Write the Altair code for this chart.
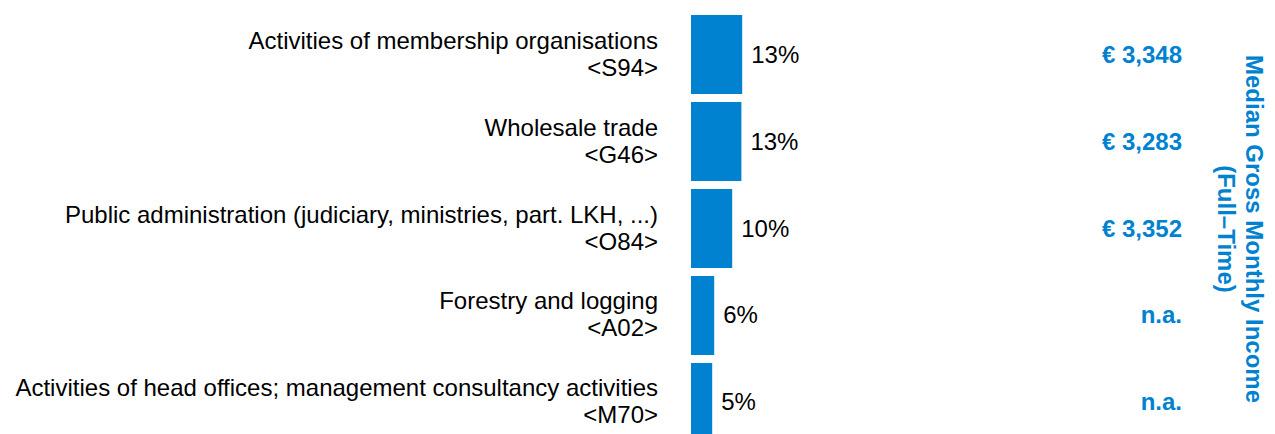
import altair as alt
import pandas as pd

names = [
    "Activities of membership organisations",
    "Wholesale trade",
    "Public administration (judiciary, ministries, part. LKH, ...)",
    "Forestry and logging",
    "Activities of head offices; management consultancy activities",
]
codes = ["S94", "G46", "O84", "A02", "M70"]
shares = [12.8, 12.6, 10.3, 5.8, 5.3]
income = [3348, 3283, 3352, None, None]
title_text = "Median Gross Monthly Income\n(Full\u2013Time)"

BLUE = "#0082D1"
FONT = "Liberation Sans"

df = pd.DataFrame({"name": names, "code": codes, "share": shares, "income": income})
df["label"] = [n + "\u00a0\n<" + c + ">" for n, c in zip(names, codes)]

base = alt.Chart(df).transform_calculate(
    pct="format(datum.share, '.0f') + '%'",
    inc="isValid(datum.income) ? '\u20ac ' + format(datum.income, ',') : 'n.a.'",
)

y = alt.Y("name:N", sort=names, axis=None,
          scale=alt.Scale(paddingInner=0.092, paddingOuter=0.0805))
x = alt.X("share:Q", axis=None, scale=alt.Scale(domain=[0, 144], nice=False, zero=True))

bars = base.mark_bar(color=BLUE).encode(x=x, y=y)

pct = base.mark_text(align="left", baseline="middle", dx=9, dy=1, fontSize=24,
                     font=FONT, color="#000000").encode(x=x, y=y, text="pct:N")

labels = base.mark_text(align="right", baseline="middle", fontSize=24, font=FONT,
                        color="#000000", lineBreak="\n", lineHeight=27, dy=-13).encode(
    x=alt.value(-33), y=y, text="label:N")

inc = base.mark_text(align="right", baseline="middle", fontSize=24, font=FONT,
                     fontWeight="bold", color=BLUE, dy=1).encode(
    x=alt.value(491), y=y, text="inc:N")

title = alt.Chart(pd.DataFrame({"t": [title_text]})).mark_text(
    angle=90, align="center", baseline="middle", fontSize=24, font=FONT,
    fontWeight="bold", color=BLUE, lineBreak="\n", lineHeight=28).encode(
    x=alt.value(562), y=alt.value(221), text="t:N")

chart = alt.layer(bars, pct, labels, inc, title).properties(
    width=576, height=441,
    autosize=alt.AutoSizeParams(type="none"),
    padding={"left": 683, "top": 0, "right": 0, "bottom": 0},
).configure_view(stroke=None)

chart.save("out.html", embed_options={"renderer": "svg", "actions": False})
